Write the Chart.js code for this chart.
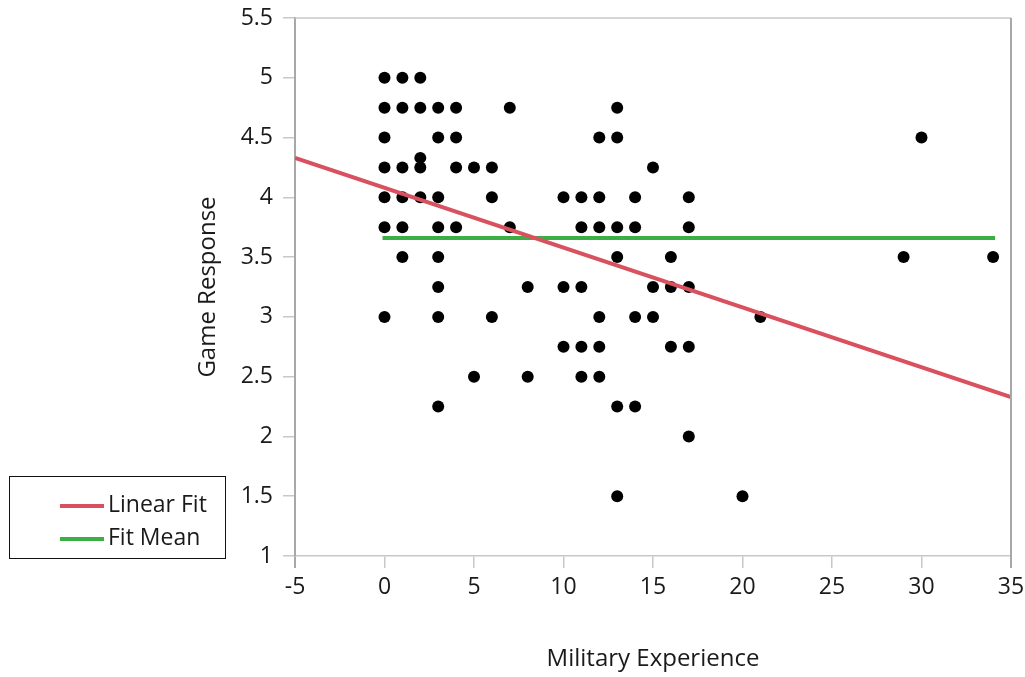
<!DOCTYPE html>
<html>
<head>
<meta charset="utf-8">
<script src="https://cdn.jsdelivr.net/npm/chart.js@4"></script>
<style>
  body { margin: 0; background: #fff; }
  #wrap { position: relative; width: 1025px; height: 677px; }
  #legend {
    position: absolute; left: 9px; top: 476px; width: 215px; height: 81px;
    border: 1.5px solid #111; font-family: "Open Sans", sans-serif; font-size: 23px; color: #1a1a1a;
  }
  .row { position: absolute; left: 50px; height: 30px; line-height: 30px; white-space: nowrap; }
  .row span.sw { display: inline-block; width: 44px; height: 4px; vertical-align: middle; margin-right: 4px; }
</style>
</head>
<body>
<div id="wrap">
  <canvas id="chart"></canvas>
  <div id="legend">
    <div class="row" style="top:11px"><span class="sw" style="background:#d9505e"></span>Linear Fit</div>
    <div class="row" style="top:44px"><span class="sw" style="background:#3cae46"></span>Fit Mean</div>
  </div>
</div>
<script>
// datos
const experience = [
  0, 1, 2,
  0, 1, 2, 3, 4, 7, 13,
  0, 3, 4, 12, 13, 30,
  2,
  0, 1, 2, 4, 5, 6, 15,
  0, 1, 2, 3, 6, 10, 11, 12, 14, 17,
  0, 1, 3, 4, 7, 11, 12, 13, 14, 17,
  1, 3, 13, 16, 29, 34,
  3, 8, 10, 11, 15, 16, 17,
  0, 3, 6, 12, 14, 15, 21,
  10, 11, 12, 16, 17,
  5, 8, 11, 12,
  3, 13, 14,
  17,
  13, 20
];
const response = [
  5, 5, 5,
  4.75, 4.75, 4.75, 4.75, 4.75, 4.75, 4.75,
  4.5, 4.5, 4.5, 4.5, 4.5, 4.5,
  4.33,
  4.25, 4.25, 4.25, 4.25, 4.25, 4.25, 4.25,
  4, 4, 4, 4, 4, 4, 4, 4, 4, 4,
  3.75, 3.75, 3.75, 3.75, 3.75, 3.75, 3.75, 3.75, 3.75, 3.75,
  3.5, 3.5, 3.5, 3.5, 3.5, 3.5,
  3.25, 3.25, 3.25, 3.25, 3.25, 3.25, 3.25,
  3, 3, 3, 3, 3, 3, 3,
  2.75, 2.75, 2.75, 2.75, 2.75,
  2.5, 2.5, 2.5, 2.5,
  2.25, 2.25, 2.25,
  2,
  1.5, 1.5
];
const fitX = [-5, 35];
const fitY = [4.33, 2.33];
const meanX = [0, 34];
const meanY = [3.66, 3.66];

const points = experience.map((x, i) => ({ x: x, y: response[i] }));
const fitLine = fitX.map((x, i) => ({ x: x, y: fitY[i] }));
const meanLine = meanX.map((x, i) => ({ x: x, y: meanY[i] }));

const FONT = "'Open Sans', sans-serif";

// marco superior y derecho
const frame = {
  id: 'frame',
  afterDraw(chart) {
    const a = chart.chartArea, c = chart.ctx;
    c.save();
    c.strokeStyle = '#c8c8c8';
    c.lineWidth = 1.5;
    c.beginPath();
    c.moveTo(a.left, a.top);
    c.lineTo(a.right, a.top);
    c.stroke();
    c.strokeStyle = '#a8a8a8';
    c.lineWidth = 2;
    c.beginPath();
    c.moveTo(a.right, a.top);
    c.lineTo(a.right, a.bottom + 12);
    c.stroke();
    c.restore();
  }
};

new Chart(document.getElementById('chart').getContext('2d'), {
  type: 'scatter',
  data: {
    datasets: [
      { label: 'Linear Fit', data: fitLine, showLine: true, borderColor: '#d9505e', borderWidth: 4, pointRadius: 0, order: 1 },
      { label: 'Fit Mean', data: meanLine, showLine: true, borderColor: '#3cae46', borderWidth: 4, pointRadius: 0, borderCapStyle: 'square', order: 2 },
      { label: 'Data', data: points, backgroundColor: '#000', borderWidth: 0, pointRadius: 6, order: 3 }
    ]
  },
  options: {
    responsive: true,
    maintainAspectRatio: false,
    animation: false,
    layout: { padding: { left: 190, top: 18, right: 14, bottom: 0 } },
    plugins: { legend: { display: false }, tooltip: { enabled: false } },
    scales: {
      x: {
        type: 'linear', min: -5, max: 35,
        afterFit: (axis) => { axis.height = 121; axis.paddingLeft = 0; axis.paddingRight = 0; },
        ticks: { stepSize: 5, padding: 6, color: '#1a1a1a', font: { family: FONT, size: 23 } },
        grid: {
          drawOnChartArea: false, tickLength: 12,
          color: (c) => (c.index === 0 || c.index === 8) ? '#a8a8a8' : '#c8c8c8',
          lineWidth: (c) => (c.index === 0 || c.index === 8) ? 2 : 1.5
        },
        border: { color: '#c8c8c8', width: 1.5 },
        title: { display: true, text: 'Military Experience', color: '#1a1a1a', font: { family: FONT, size: 24 }, padding: { top: 4, bottom: 3 } }
      },
      y: {
        min: 1, max: 5.5,
        afterFit: (axis) => { axis.width = 105; axis.paddingTop = 0; axis.paddingBottom = 0; },
        ticks: {
          stepSize: 0.5, padding: 10, color: '#1a1a1a', font: { family: FONT, size: 23 },
          callback: (v) => String(v)
        },
        grid: { drawOnChartArea: false, tickLength: 12, color: '#c8c8c8', lineWidth: 1.5 },
        border: { color: '#a8a8a8', width: 2 },
        title: { display: true, text: 'Game Response', color: '#1a1a1a', font: { family: FONT, size: 24 }, padding: { top: 4, bottom: 4 } }
      }
    }
  },
  plugins: [frame]
});
</script>
</body>
</html>
